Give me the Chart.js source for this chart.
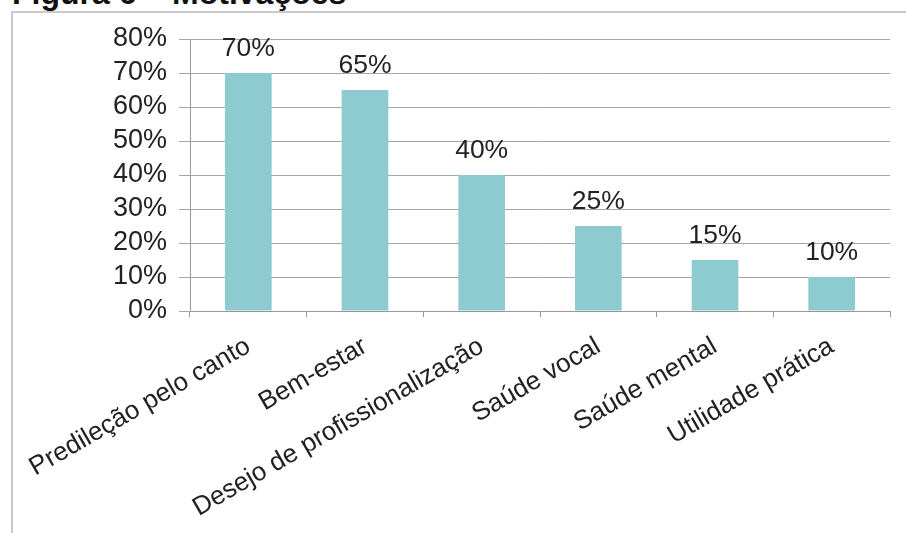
<!DOCTYPE html>
<html>
<head>
<meta charset="utf-8">
<script src="https://cdn.jsdelivr.net/npm/chart.js@4"></script>
<style>
  html, body { margin: 0; padding: 0; background: #fff; overflow: hidden; }
  #wrap { position: relative; width: 906px; height: 533px; }
  #title {
    position: absolute; left: 12px; top: -23px;
    font: bold 32px "Liberation Sans", Arial, sans-serif; line-height: 32px;
    color: #111; white-space: nowrap;
  }
  #frame {
    position: absolute; left: 11px; top: 11px; right: -5px; bottom: -5px;
    border-left: 2px solid #c9c9c9; border-top: 2px solid #c9c9c9;
  }
  canvas { position: absolute; left: 0; top: 0; }
</style>
</head>
<body>
<div id="wrap">
  <div id="title">Figura 6 – Motivações</div>
  <div id="frame"></div>
  <canvas id="myChart" width="906" height="533"></canvas>
</div>
<script>
const categories = ['Predileção pelo canto', 'Bem-estar', 'Desejo de profissionalização', 'Saúde vocal', 'Saúde mental', 'Utilidade prática']
const values = [70, 65, 40, 25, 15, 10]
const yTicks = [0, 10, 20, 30, 40, 50, 60, 70, 80]

const FONT = '"Liberation Sans", Arial, sans-serif'

// rótulos de valor em cima das barras
const valueLabels = {
  id: 'valueLabels',
  afterDatasetsDraw(chart) {
    const ctx = chart.ctx
    const meta = chart.getDatasetMeta(0)
    ctx.save()
    ctx.font = '26.5px ' + FONT
    ctx.fillStyle = '#222'
    ctx.textAlign = 'center'
    ctx.textBaseline = 'alphabetic'
    meta.data.forEach((bar, i) => {
      ctx.fillText(values[i] + '%', bar.x, bar.y - 17)
    })
    ctx.restore()
  }
}

const myChart = new Chart(
  document.getElementById('myChart'),
  {
    type: 'bar',
    data: {
      labels: categories,
      datasets: [{
        data: values,
        backgroundColor: '#8ecbd1',
        borderWidth: 0,
        categoryPercentage: 1,
        barPercentage: 0.4
      }]
    },
    options: {
      responsive: false,
      animation: false,
      layout: { padding: { top: 39, right: 16, left: 0, bottom: 0 } },
      plugins: {
        legend: { display: false },
        tooltip: { enabled: false }
      },
      scales: {
        x: {
          grid: {
            offset: true,
            drawOnChartArea: false,
            drawTicks: true,
            tickLength: 6,
            color: '#999'
          },
          border: { color: '#999', width: 1 },
          ticks: {
            minRotation: 30,
            maxRotation: 30,
            autoSkip: false,
            padding: 14,
            color: '#222',
            font: { family: FONT, size: 26 }
          },
          afterFit(s) { s.height = 222 }
        },
        y: {
          min: 0,
          max: 80,
          afterBuildTicks(s) { s.ticks = yTicks.map(v => ({ value: v })) },
          grid: {
            color: '#a6a6a6',
            tickLength: 11
          },
          border: { color: '#999', width: 1 },
          ticks: {
            autoSkip: false,
            padding: 12,
            color: '#222',
            font: { family: FONT, size: 27 },
            callback: v => v + '%'
          },
          afterFit(s) { s.width = 190 }
        }
      }
    },
    plugins: [valueLabels]
  }
);
</script>
</body>
</html>
